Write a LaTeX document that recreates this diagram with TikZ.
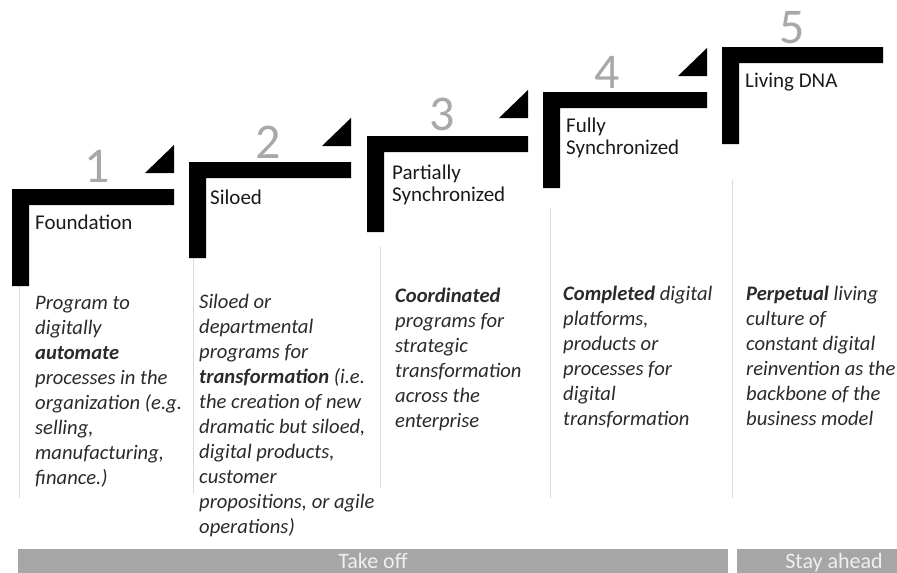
\documentclass[tikz,border=0pt]{standalone}
\usepackage{fontspec}
\setmainfont{Carlito}
\definecolor{numgray}{HTML}{A8A8A8}
\definecolor{headcol}{HTML}{1A1A1A}
\definecolor{bodycol}{HTML}{2A2A2A}
\definecolor{sepgray}{HTML}{DADADA}
\definecolor{bandgray}{HTML}{A6A6A6}
\definecolor{bandtext}{HTML}{EFEFEF}
\tikzset{
  stepbar/.style={fill=black, draw=none},
  steptri/.style={fill=black, draw=none},
  num/.style={text=numgray, inner sep=0pt, font=\fontsize{50}{50}\selectfont},
  head/.style={anchor=north west, inner sep=0pt, align=left, text=headcol, font=\fontsize{21}{22}\selectfont},
  body/.style={anchor=north west, inner sep=0pt, align=left, text=bodycol, font=\fontsize{20.6}{25}\selectfont\itshape},
  sepline/.style={draw=sepgray, line width=0.8pt},
  band/.style={fill=bandgray, draw=none},
  bandlabel/.style={text=bandtext, inner sep=0pt, anchor=base, font=\fontsize{22}{24}\selectfont},
}
\newcommand{\stepL}[4]{% x0, x1, ytop, ybottom
  \fill[stepbar] (#1,#3) -- (#2,#3) -- (#2,#3+16) -- (#1+17,#3+16) -- (#1+17,#4) -- (#1,#4) -- cycle;}
\newcommand{\stepT}[2]{% right x, bottom y
  \fill[steptri] (#1-29,#2) -- (#1,#2-28) -- (#1,#2) -- cycle;}
\begin{document}
\begin{tikzpicture}[x=1pt,y=-1pt]
\useasboundingbox (0,0) rectangle (897,573);

% separator lines
\coordinate (s1a) at (19,286);  \coordinate (s1b) at (19,498);
\coordinate (s2a) at (193,258); \coordinate (s2b) at (193,494);
\coordinate (s3a) at (380,247); \coordinate (s3b) at (380,488);
\coordinate (s4a) at (550,208); \coordinate (s4b) at (550,498);
\coordinate (s5a) at (732,180); \coordinate (s5b) at (732,498);
\draw[sepline] (s1a) -- (s1b);
\draw[sepline] (s2a) -- (s2b);
\draw[sepline] (s3a) -- (s3b);
\draw[sepline] (s4a) -- (s4b);
\draw[sepline] (s5a) -- (s5b);

% steps
\stepL{12}{174}{189}{286}
\stepL{189}{351}{162}{258}
\stepL{367}{528}{136}{232}
\stepL{543}{707}{92}{188}
\stepL{722}{883}{47}{144}
\stepT{174}{173}
\stepT{351}{146}
\stepT{528}{118}
\stepT{707}{76}

% numbers
\node[num] (n1) at (97,166) {1};
\node[num] (n2) at (268,142) {2};
\node[num] (n3) at (442,114) {3};
\node[num] (n4) at (607,72) {4};
\node[num] (n5) at (792,28) {5};

% headings
\node[head] (h1) at (35,214) {\strut Foundation};
\node[head] (h2) at (210,189) {\strut Siloed};
\node[head] (h3) at (392,164) {\strut Partially\\Synchronized};
\node[head] (h4) at (566,117) {\strut Fully\\Synchronized};
\node[head] (h5) at (745,72) {\strut Living DNA};

% body texts
\node[body] (b1) at (35,292) {\strut Program to\\digitally\\\textbf{automate}\\processes in the\\organization (e.g.\\selling,\\manufacturing,\\finance.)};
\node[body] (b2) at (199,291) {\strut Siloed or\\departmental\\programs for\\\textbf{transformation} (i.e.\\the creation of new\\dramatic but siloed,\\digital products,\\customer\\propositions, or agile\\operations)};
\node[body] (b3) at (395,285) {\strut\textbf{Coordinated}\\programs for\\strategic\\transformation\\across the\\enterprise};
\node[body] (b4) at (563,283) {\strut\textbf{Completed} digital\\platforms,\\products or\\processes for\\digital\\transformation};
\node[body] (b5) at (746,283) {\strut\textbf{Perpetual} living\\culture of\\constant digital\\reinvention as the\\backbone of the\\business model};

% bottom bands
\fill[band] (18,549) rectangle (728,573);
\fill[band] (737,549) rectangle (897,573);
\node[bandlabel] (t1) at (373,568) {Take off};
\node[bandlabel] (t2) at (834,568) {Stay ahead};
\end{tikzpicture}
\end{document}
